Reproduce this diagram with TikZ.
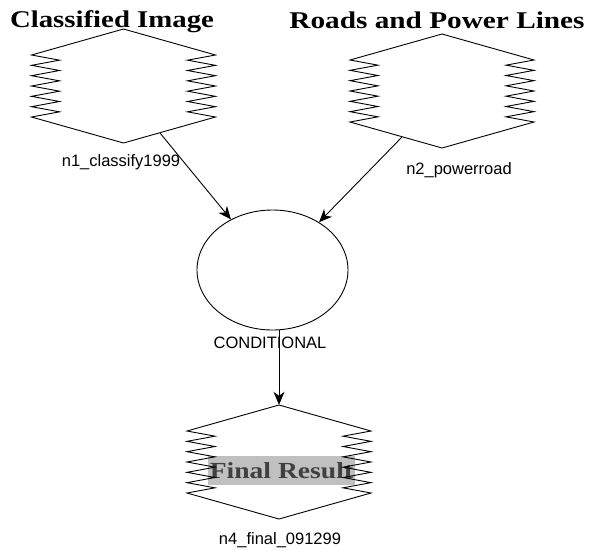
\documentclass[tikz,border=0pt]{standalone}
\usepackage{graphicx}
\usepackage{fontspec}
\setmainfont{Liberation Serif}
\newfontfamily\labelfont{Liberation Sans}
\usetikzlibrary{shapes.geometric,arrows.meta,calc}

\definecolor{boxgray}{HTML}{C0C0C0}
\definecolor{textgray}{HTML}{404040}

\tikzset{
  % raster-like layer symbol: flat hexagon with serrated sides
  zzhex/.pic={
    \draw[line width=0.9pt, line join=miter]
      (0,-57) -- (92,-31)
      \foreach \k in {0,...,5} { -- (64,-25.833+\k*10.333) -- (92,-20.667+\k*10.333) }
      -- (0,57) -- (-92,31)
      \foreach \k in {0,...,5} { -- (-64,25.833-\k*10.333) -- (-92,20.667-\k*10.333) }
      -- cycle;
  },
  hexbox/.style={shape=rectangle, minimum width=184pt, minimum height=114pt, inner sep=0pt},
  title/.style={font=\fontsize{24}{28}\selectfont\bfseries, inner sep=0pt, anchor=base},
  lbl/.style={font=\labelfont\fontsize{16.5}{19}\selectfont, inner sep=0pt},
  arr/.style={line width=0.9pt, -{Stealth[length=13pt, width=11pt, inset=4pt]}},
}

\begin{document}
\begin{tikzpicture}[x=1pt, y=-1pt]
  \useasboundingbox[fill=white] (0,0) rectangle (590,550);

  % titles
  \node[title] (t1) at (112,27) {\scalebox{1.2}[1]{Classified Image}};
  \node[title] (t2) at (437,28) {\scalebox{1.22}[1]{Roads and Power Lines}};

  % input layers
  \path (123.5,86) pic {zzhex} node[hexbox] (s1) {};
  \path (442,91) pic {zzhex} node[hexbox] (s2) {};
  \node[lbl] (l1) at (121,162) {n1\_classify1999};
  \node[lbl] (l2) at (459,170) {n2\_powerroad};

  % conditional operator
  \node[ellipse, draw, line width=0.9pt, minimum width=151pt, minimum height=120pt, inner sep=0pt] (cond) at (272.5,270) {};
  \node[lbl] (lc) at (270,343) {CONDITIONAL};

  % output layer
  \node[fill=boxgray, minimum width=147pt, minimum height=29pt, inner sep=0pt, text depth=0pt,
        font=\fontsize{23}{27}\selectfont\bfseries, text=textgray] (fr) at (281.5,470.5)
        {\scalebox{1.2}[1]{Final Result}};
  \path (279,462) pic {zzhex} node[hexbox] (s4) {};
  \node[lbl] (l4) at (280,540) {n4\_final\_091299};

  % connectors
  \coordinate (s1out) at ($(s1.center)+(36.5,47)$);
  \coordinate (s2out) at ($(s2.center)+(-40,46)$);
  \draw[arr] (s1out) -- (cond);
  \draw[arr] (s2out) -- (cond);
  \draw[arr] (s4.north |- cond.south) -- (s4.north);
\end{tikzpicture}
\end{document}
